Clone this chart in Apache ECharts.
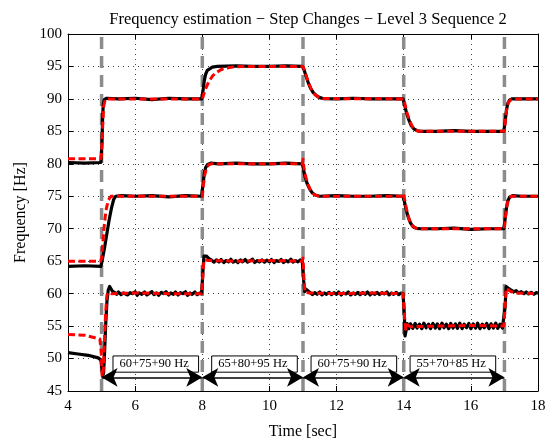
<!DOCTYPE html>
<html>
<head>
<meta charset="utf-8">
<script src="https://cdn.jsdelivr.net/npm/echarts@6/dist/echarts.min.js"></script>
<style>html,body{margin:0;padding:0;background:#fff;}#c{width:554px;height:445px;}</style>
</head>
<body>
<div id="c"></div>
<script>
// ---- data ----
const xTicks = [4, 6, 8, 10, 12, 14, 16, 18];
const yTicks = [45, 50, 55, 60, 65, 70, 75, 80, 85, 90, 95, 100];
const stepTimes = [5, 8, 11, 14, 17];
const segmentLabels = ['60+75+90 Hz', '65+80+95 Hz', '60+75+90 Hz', '55+70+85 Hz'];

const actualHigh = [[4.0,80.2],[4.5,80.1],[4.98,80.2],[5.01,83],[5.03,87],[5.05,89.2],[5.08,89.9],[5.15,90.1],[5.5,90.0],[6.0,90.1],[6.5,89.9],[7.0,90.1],[7.5,90.0],[7.98,90.0],
[8.02,91.2],[8.06,92.8],[8.1,93.8],[8.15,94.4],[8.2,94.7],[8.3,94.9],[8.45,95.0],[9,95.1],[9.5,95.0],[10,95.0],[10.5,95.1],[10.98,95.0],
[11.03,94.5],[11.08,93.7],[11.15,92.6],[11.22,91.7],[11.3,91.0],[11.4,90.5],[11.5,90.2],[11.6,90.05],[12,90.0],[12.5,90.1],[13,90.0],[13.5,90.0],[13.98,90.0],
[14.03,89.0],[14.08,87.9],[14.15,86.8],[14.22,85.9],[14.3,85.4],[14.4,85.1],[14.5,85.0],[15,85.0],[15.5,85.1],[16,85.0],[16.5,85.0],[16.98,85.0],
[17.02,86.5],[17.06,88.3],[17.1,89.3],[17.15,89.8],[17.22,90.0],[17.5,90.0],[18,90.0]];

const estHigh = [[4.0,80.8],[4.98,80.8],[5.0,81.5],[5.03,85.5],[5.06,88.8],[5.1,89.7],[5.18,90.0],[8.0,90.0],[8.05,90.8],[8.1,91.6],[8.2,92.7],[8.3,93.5],[8.4,94.0],[8.55,94.5],[8.7,94.75],[8.9,94.9],[9.2,95.0],[11.0,95.0],
[11.05,94.3],[11.1,93.5],[11.18,92.3],[11.26,91.3],[11.35,90.7],[11.45,90.3],[11.6,90.05],[14,90],[14.05,88.9],[14.1,87.8],[14.18,86.6],[14.26,85.7],[14.35,85.2],[14.45,85.0],[17,85],
[17.03,86.8],[17.07,88.5],[17.12,89.5],[17.2,89.9],[17.3,90],[18,90]];

const actualMid = [[4,64.2],[4.5,64.3],[4.98,64.2],[5.02,65.2],[5.08,66.8],[5.15,69],[5.22,71.2],[5.3,73.3],[5.36,74.5],[5.42,75.0],[5.6,75.1],[6,75],[6.5,75.1],[7,74.9],[7.5,75.1],[7.98,75.0],
[8.02,76.8],[8.06,78.5],[8.1,79.4],[8.16,79.9],[8.25,80.1],[8.5,80.0],[9,80.1],[9.5,80.0],[10,80.0],[10.5,80.1],[10.98,80.0],
[11.02,79.0],[11.06,78.0],[11.12,77.0],[11.2,76.1],[11.28,75.5],[11.38,75.15],[11.5,75.0],[12,75.1],[12.5,75],[13,75.0],[13.5,75.1],[13.98,75.0],
[14.02,74.2],[14.06,73.2],[14.12,72.0],[14.2,70.9],[14.28,70.3],[14.38,70.05],[14.5,70.0],[15,70.0],[15.5,70.1],[16,69.9],[16.5,70],[16.98,70.0],
[17.02,71.5],[17.06,73.2],[17.1,74.3],[17.16,74.9],[17.25,75.1],[17.5,75.0],[18,75.0]];

const estMid = [[4,65],[4.97,65],[5.0,65.5],[5.04,68],[5.08,70.5],[5.13,72.8],[5.2,74.4],[5.28,75],[8,75],[8.03,76.5],[8.07,78.2],[8.12,79.3],[8.2,79.9],[8.3,80],[10.98,80],
[11.0,80.7],[11.03,79.3],[11.08,78.0],[11.15,76.8],[11.22,76.0],[11.3,75.4],[11.4,75.1],[11.5,75],[13.98,75],[14.0,75.4],[14.04,74.1],[14.1,72.6],[14.17,71.3],[14.25,70.5],[14.35,70.1],[14.45,70],[17,70],
[17.03,71.8],[17.07,73.5],[17.12,74.5],[17.2,75],[18,75]];

const actualLow = [[4,50.9],[4.3,50.7],[4.6,50.5],[4.9,50.1],[4.98,49.8],[5.01,48.5],[5.03,47.3],[5.06,47.8],[5.09,51],[5.12,55],[5.16,58.8],[5.2,60.6],[5.24,61.1],[5.28,60.8],[5.32,60.4],
[5.38,60.2],[5.45,59.9],[5.5,60.25],[5.58,59.85],[5.65,60.1],[5.7,60.3],[5.78,59.8],[5.85,60.15],[5.92,60.0],[6.0,60.3],[6.06,59.75],[6.12,60.1],[6.2,59.9],[6.28,60.25],[6.35,59.8],[6.42,60.05],[6.5,60.3],[6.56,59.85],[6.64,60.1],[6.7,59.75],[6.78,60.2],[6.85,60.0],[6.92,60.3],[7.0,59.8],[7.06,60.1],[7.14,59.9],[7.2,60.25],[7.28,59.8],[7.35,60.15],[7.42,60.0],[7.5,60.3],[7.56,59.75],[7.64,60.1],[7.7,59.9],[7.78,60.25],[7.85,59.85],[7.92,60.1],[7.98,60.0],
[8.02,63.5],[8.05,65.8],[8.08,66.1],[8.12,65.8],[8.2,65.4],[8.28,65.15],[8.35,64.85],[8.42,65.2],[8.5,64.9],[8.56,65.25],[8.64,64.8],[8.7,65.1],[8.78,64.9],[8.85,65.3],[8.92,64.85],[9.0,65.1],[9.06,64.8],[9.14,65.2],[9.2,64.9],[9.28,65.25],[9.35,64.85],[9.42,65.05],[9.5,65.3],[9.56,64.8],[9.64,65.1],[9.7,64.9],[9.78,65.2],[9.85,64.85],[9.92,65.15],[10.0,64.9],[10.06,65.25],[10.14,64.8],[10.2,65.1],[10.28,64.95],[10.35,65.25],[10.42,64.8],[10.5,65.1],[10.56,64.9],[10.64,65.3],[10.7,64.85],[10.78,65.1],[10.85,64.9],[10.92,65.2],[10.98,65.0],
[11.02,62],[11.05,60.3],[11.08,60.7],[11.12,60.5],[11.2,60.2],[11.28,59.85],[11.35,60.15],[11.42,59.9],[11.5,60.25],[11.56,59.8],[11.64,60.1],[11.7,59.9],[11.78,60.2],[11.85,59.85],[11.92,60.15],[12.0,59.9],[12.06,60.25],[12.14,59.8],[12.2,60.1],[12.28,59.95],[12.35,60.25],[12.42,59.8],[12.5,60.1],[12.56,59.9],[12.64,60.2],[12.7,59.85],[12.78,60.15],[12.85,59.9],[12.92,60.25],[13.0,59.8],[13.06,60.1],[13.14,59.9],[13.2,60.2],[13.28,59.85],[13.35,60.15],[13.42,59.95],[13.5,60.25],[13.56,59.8],[13.64,60.1],[13.7,59.9],[13.78,60.2],[13.85,59.85],[13.92,60.1],[13.98,60.0],
[14.02,56.5],[14.04,53.5],[14.07,54.3],[14.1,55.4],[14.15,54.6],[14.2,55.35],[14.27,54.65],[14.34,55.4],[14.4,54.7],[14.47,55.3],[14.54,54.6],[14.6,55.45],[14.67,54.75],[14.74,55.3],[14.8,54.6],[14.87,55.4],[14.94,54.7],[15.0,55.35],[15.07,54.6],[15.14,55.45],[15.2,54.75],[15.27,55.3],[15.34,54.6],[15.4,55.4],[15.47,54.7],[15.54,55.35],[15.6,54.65],[15.67,55.45],[15.74,54.6],[15.8,55.3],[15.87,54.75],[15.94,55.4],[16.0,54.6],[16.07,55.35],[16.14,54.7],[16.2,55.45],[16.27,54.6],[16.34,55.3],[16.4,54.75],[16.47,55.4],[16.54,54.6],[16.6,55.35],[16.67,54.7],[16.74,55.45],[16.8,54.65],[16.87,55.3],[16.94,54.7],[16.98,55.0],
[17.02,58],[17.05,61.1],[17.08,61.2],[17.12,60.8],[17.2,60.55],[17.28,60.3],[17.35,60.45],[17.42,60.1],[17.5,60.3],[17.58,60.0],[17.65,60.25],[17.72,59.95],[17.8,60.2],[17.88,59.9],[17.95,60.15],[18.0,60.1]];

const estLow = [[4,53.7],[4.5,53.6],[4.65,53.4],[4.8,53.2],[4.95,53.0],[4.99,51],[5.02,47.2],[5.05,48],[5.08,52],[5.12,57],[5.16,59.8],[5.22,60.2],[5.3,60.0],[6,60.1],[7,60],[7.98,60],
[8.02,63],[8.05,65.2],[8.1,65.4],[8.2,65.1],[9,65],[10,65.1],[10.98,65],[11.0,65.5],[11.03,62],[11.06,60.2],[11.1,60.3],[11.2,60.1],[12,60],[13,60.1],[13.98,60],
[14.0,60.3],[14.03,56],[14.06,54.5],[14.1,55.2],[14.2,54.9],[15,55],[16,55.1],[16.98,55],[17.02,58],[17.05,60.8],[17.1,60.6],[17.2,60.3],[17.4,60.1],[18,60]];

// ---- chart ----
const FONT = '"Liberation Serif", "DejaVu Serif", serif';
const xMin = xTicks[0], xMax = xTicks[xTicks.length - 1];
const yMin = yTicks[0], yMax = yTicks[yTicks.length - 1];
const xInt = xTicks[1] - xTicks[0], yInt = yTicks[1] - yTicks[0];

const arrowY = 47.1, boxTop = 50.4, boxBottom = 47.9;
const boxStart = [5.34, 8.28, 11.24, 14.19], boxWidth = 2.55;

const dashedSeries = stepTimes.map(t => ({
  type: 'line', data: [[t, yMin], [t, yMax]], showSymbol: false, silent: true,
  lineStyle: { color: '#8c8c8c', width: 3.5, type: [12, 7] }, z: 2
}));

function lineS(data, color, dashed, z) {
  return { type: 'line', data: data, showSymbol: false, silent: true, z: z,
    lineStyle: { color: color, width: dashed ? 3 : 3.2, type: dashed ? [7, 3.5] : 'solid', join: 'round' } };
}

const annot = {
  type: 'line', data: [], silent: true, z: 10,
  markArea: {
    silent: true,
    itemStyle: { color: '#fff', borderColor: '#000', borderWidth: 1 },
    label: { show: true, position: 'insideLeft', distance: 7, color: '#000', fontFamily: FONT, fontSize: 12.5 },
    data: segmentLabels.map((s, i) => [{ name: s, coord: [boxStart[i], boxTop] }, { coord: [boxStart[i] + boxWidth, boxBottom] }])
  },
  markLine: {
    silent: true, symbol: ['arrow', 'arrow'], symbolSize: [14, 16],
    label: { show: false },
    lineStyle: { color: '#000', width: 1.5, type: 'solid' },
    data: stepTimes.slice(0, -1).map((t, i) => [{ coord: [t, arrowY] }, { coord: [stepTimes[i + 1], arrowY] }])
  }
};

const tickCommon = { inside: true, length: 5, lineStyle: { color: '#000' } };
const option = {
  animation: false,
  backgroundColor: '#fff',
  title: { text: 'Frequency estimation \u2212 Step Changes \u2212 Level 3 Sequence 2', left: 303, textAlign: 'center', top: 6,
    textStyle: { fontFamily: FONT, fontSize: 16.5, fontWeight: 'normal', color: '#000' } },
  grid: { left: 68, right: 16, top: 34, bottom: 47 },
  xAxis: [
    { type: 'value', min: xMin, max: xMax, interval: xInt, name: 'Time [sec]', nameLocation: 'middle', nameGap: 33,
      nameTextStyle: { fontFamily: FONT, fontSize: 16, color: '#000' },
      axisLine: { lineStyle: { color: '#000', width: 1 } }, axisTick: tickCommon,
      axisLabel: { fontFamily: FONT, fontSize: 15, color: '#000', margin: 8 },
      splitLine: { show: true, lineStyle: { color: '#444', width: 1, type: [1, 4] } } },
    { type: 'value', position: 'top', min: xMin, max: xMax, interval: xInt,
      axisLine: { show: true, lineStyle: { color: '#000', width: 1 } }, axisTick: tickCommon,
      axisLabel: { show: false }, splitLine: { show: false } }
  ],
  yAxis: [
    { type: 'value', min: yMin, max: yMax, interval: yInt, name: 'Frequency [Hz]', nameLocation: 'middle', nameGap: 38, nameRotate: 90,
      nameTextStyle: { fontFamily: FONT, fontSize: 16, color: '#000' },
      axisLine: { show: true, lineStyle: { color: '#000', width: 1 } }, axisTick: tickCommon,
      axisLabel: { fontFamily: FONT, fontSize: 15, color: '#000', margin: 6 },
      splitLine: { show: true, lineStyle: { color: '#444', width: 1, type: [1, 4] } } },
    { type: 'value', position: 'right', min: yMin, max: yMax, interval: yInt,
      axisLine: { show: true, lineStyle: { color: '#000', width: 1 } }, axisTick: tickCommon,
      axisLabel: { show: false }, splitLine: { show: false } }
  ],
  series: dashedSeries.concat([
    lineS(actualHigh, '#000', false, 3),
    lineS(actualMid, '#000', false, 3),
    lineS(actualLow, '#000', false, 3),
    lineS(estHigh, '#ff0000', true, 4),
    lineS(estMid, '#ff0000', true, 4),
    lineS(estLow, '#ff0000', true, 4),
    annot
  ])
};
const chart = echarts.init(document.getElementById('c'), null, { renderer: 'canvas' });
chart.setOption(option);
</script>
</body>
</html>
